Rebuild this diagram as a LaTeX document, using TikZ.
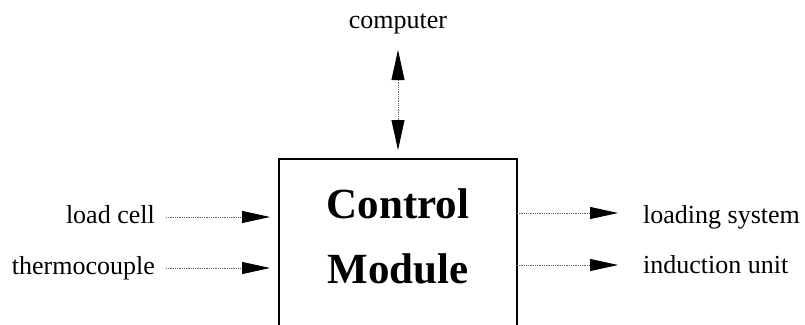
\documentclass[tikz,border=0pt]{standalone}
\usepackage{fontspec}
\setmainfont{Liberation Serif}
\usetikzlibrary{arrows.meta}
\begin{document}
\begin{tikzpicture}[x=1pt,y=-1pt,
  lbl/.style={font=\fontsize{26}{30}\selectfont, inner sep=0pt},
  big/.style={font=\fontsize{43}{50}\selectfont\bfseries, inner sep=0pt},
  conn/.style={densely dotted, draw=black!60, line width=0.8pt,
    -{Triangle[length=28pt,width=12pt,fill=black,color=black]}},
  conn2/.style={densely dotted, draw=black!60, line width=0.8pt,
    {Triangle[length=30pt,width=13pt,fill=black,color=black]}-{Triangle[length=30pt,width=13pt,fill=black,color=black]}},
  boxline/.style={draw=black, line width=2pt}]
\useasboundingbox (0,0) rectangle (805,324);
\clip (0,0) rectangle (805,324);
% control module box (cut off at the bottom)
\node[boxline, anchor=north, minimum width=238pt, minimum height=220pt, inner sep=0pt] (box) at (398,158) {};
\node[big, anchor=base] (ctl) at (398,218) {Control};
\node[big, anchor=base] (mod) at (398,283) {Module};
% labels
\node[lbl, anchor=base] (comp) at (398,28) {computer};
\node[lbl, anchor=base east] (lc) at (155,223) {load cell};
\node[lbl, anchor=base east] (tc) at (155,274) {thermocouple};
\node[lbl, anchor=base west] (ls) at (643,223) {loading system};
\node[lbl, anchor=base west] (iu) at (643,273) {induction unit};
% connector end points
\coordinate (compA) at (398,50);
\coordinate (compB) at (398,150);
\coordinate (lcA) at (166,217);
\coordinate (lcB) at (270,217);
\coordinate (tcA) at (166,268);
\coordinate (tcB) at (270,268);
\coordinate (lsA) at (517,213);
\coordinate (lsB) at (618,213);
\coordinate (iuA) at (517,265);
\coordinate (iuB) at (618,265);
\draw[conn2] (compA) -- (compB);
\draw[conn] (lcA) -- (lcB);
\draw[conn] (tcA) -- (tcB);
\draw[conn] (lsA) -- (lsB);
\draw[conn] (iuA) -- (iuB);
\end{tikzpicture}
\end{document}
